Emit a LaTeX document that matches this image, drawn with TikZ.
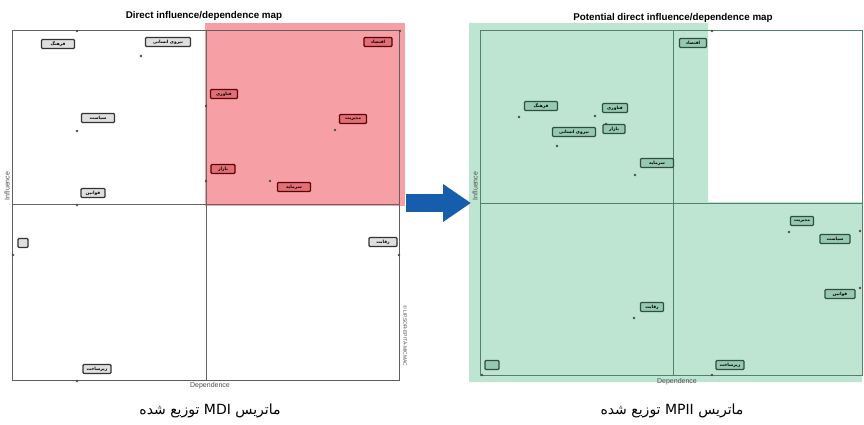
\documentclass[tikz,border=0pt]{standalone}
\usepackage{fontspec}
\setmainfont{Liberation Sans}
\newfontfamily\arabicfont[Script=Arabic]{DejaVu Sans}
\TeXXeTstate=1
\usetikzlibrary{arrows.meta,positioning}

\definecolor{mapred}{RGB}{246,160,165}
\definecolor{tagred}{RGB}{226,110,118}
\definecolor{mapgreen}{RGB}{190,228,210}
\definecolor{taggreen}{RGB}{150,202,176}
\definecolor{framegreen}{RGB}{80,130,105}
\definecolor{arrowblue}{RGB}{22,94,172}
\newcommand{\fa}[1]{{\arabicfont\beginR #1\endR}}

\begin{document}
\begin{tikzpicture}[
  x=1pt,y=-1pt,
  frame/.style={draw=gray!75!black, line width=1pt},
  midline/.style={draw=gray!80!black, line width=0.4pt},
  maptitle/.style={font=\fontsize{9.8}{10}\selectfont\bfseries, inner sep=0pt},
  axis/.style={font=\fontsize{7}{7}\selectfont, text=gray!60!black, inner sep=0pt},
  tag/.style={draw=black!80, line width=1.3pt, rounded corners=1pt, fill=gray!25, inner sep=0.5pt, minimum height=9pt, font=\fontsize{4.4}{5}\selectfont\bfseries},
  redtag/.style={tag, draw=red!35!black, fill=tagred},
  grntag/.style={tag, draw=framegreen!60!black, fill=taggreen},
  dot/.style={circle, fill=gray!60!black, inner sep=0pt, minimum size=2.8pt},
  bigarrow/.style={arrowblue, line width=18pt, -{Triangle[length=28pt,width=36pt]}},
  caption/.style={font=\fontsize{14}{15}\selectfont, inner sep=0pt}
]
\useasboundingbox (0,0) rectangle (864,425);

% left map
\fill[mapred] (205,23) rectangle (405,206);
\draw[frame] (12,31) rectangle (399,380);
\draw[midline] (206,31) -- (206,380);
\draw[midline] (12,204) -- (399,204);
\node[maptitle] (ltitle) at (204,16) {Direct influence/dependence map};
\node[axis, rotate=90] (linf) at (7,186) {Influence};
\node[axis] (ldep) at (210,386) {Dependence};
\node[axis, rotate=-90, font=\fontsize{5}{5}\selectfont] (lcopy) at (405,336) {\textcopyright{} LIPSOR-EPITA-MICMAC};

\foreach \i/\x/\y/\px/\py/\w/\s/\t in {
  1/58/44/77/31/33/tag/{فرهنگ},
  2/168/42/141/56/45/tag/{نیروی انسانی},
  3/378/42/400/31/28/redtag/{اقتصاد},
  4/224/94/206/106/27/redtag/{فناوری},
  5/98/118/77/131/33/tag/{سیاست},
  6/353/119/335/130/27/redtag/{مدیریت},
  7/223/169/206/181/24/redtag/{بازار},
  8/294/187/270/181/33/redtag/{سرمایه},
  9/93/193/77/205/24/tag/{قوانین},
  10/23/243/13/255/10/tag/{},
  11/383/242/399/255/28/tag/{رقابت},
  12/97/369/77/381/28/tag/{زیرساخت}}{
  \node[dot] (lp\i) at (\px,\py) {};
  \node[\s, minimum width=\w pt] (lt\i) at (\x,\y) {\fa{\t}};
}

% right map
\fill[mapgreen] (469,23) -- (708,23) -- (708,202) -- (862,202) -- (862,382) -- (469,382) -- cycle;
\draw[frame, draw=framegreen] (480,31) rectangle (862,375);
\draw[midline, draw=framegreen] (673,31) -- (673,375);
\draw[midline, draw=framegreen] (480,203) -- (862,203);
\node[maptitle] (rtitle) at (673,18) {Potential direct influence/dependence map};
\node[axis, rotate=90] (rinf) at (475,186) {Influence};
\node[axis] (rdep) at (677,382) {Dependence};

\foreach \i/\x/\y/\px/\py/\w/\t in {
  1/693/43/712/31/27/{اقتصاد},
  2/541/106/519/117/33/{فرهنگ},
  3/615/108/595/116/25/{فناوری},
  4/614/129/606/124/22/{بازار},
  5/574/132/557/146/43/{نیروی انسانی},
  6/657/163/635/175/33/{سرمایه},
  7/802/221/789/232/23/{مدیریت},
  8/835/239/860/231/30/{سیاست},
  9/840/294/860/288/30/{قوانین},
  10/652/307/634/318/23/{رقابت},
  11/492/365/482/375/14/{},
  12/730/365/712/375/28/{زیرساخت}}{
  \node[dot] (rp\i) at (\px,\py) {};
  \node[grntag, minimum width=\w pt] (rt\i) at (\x,\y) {\fa{\t}};
}

% arrow between maps
\coordinate (arrfrom) at (406,203);
\coordinate (arrto) at (471,203);
\draw[bigarrow] (arrfrom) -- (arrto);

% captions
\node[caption] (lcap) at (210,411) {\fa{ماتریس \beginL MDI\endL{} توزیع شده}};
\node[caption] (rcap) at (672,411) {\fa{ماتریس \beginL MPII\endL{} توزیع شده}};
\end{tikzpicture}
\end{document}
